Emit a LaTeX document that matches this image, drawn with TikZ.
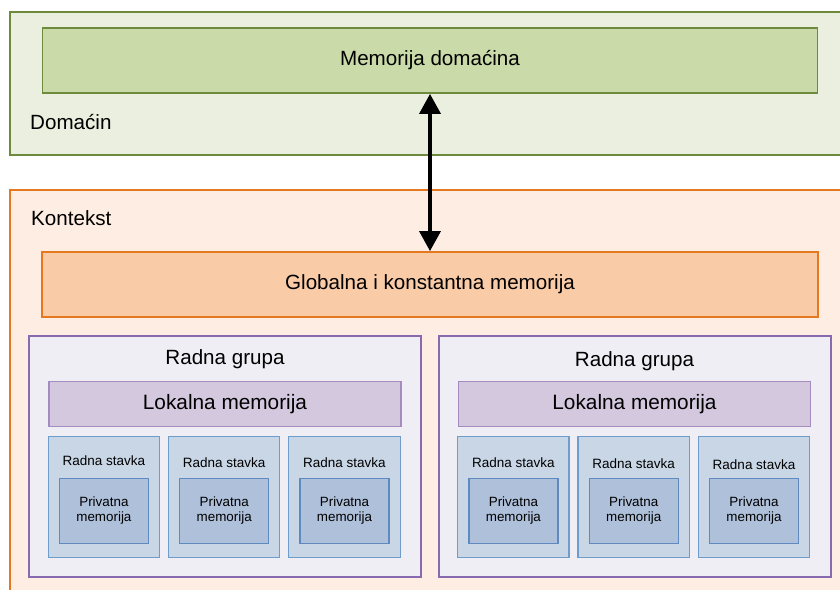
\documentclass[tikz,border=0pt]{standalone}
\usepackage{fontspec}
\setmainfont{Liberation Sans}
\usetikzlibrary{arrows.meta, positioning}
\definecolor{colHostFill}{RGB}{235,239,223}
\definecolor{colHostLine}{RGB}{110,138,60}
\definecolor{colHostMem}{RGB}{202,218,169}
\definecolor{colCtxFill}{RGB}{253,237,226}
\definecolor{colCtxLine}{RGB}{229,121,31}
\definecolor{colGlobMem}{RGB}{249,203,167}
\definecolor{colGrpFill}{RGB}{239,238,244}
\definecolor{colGrpLine}{RGB}{138,106,174}
\definecolor{colLocMem}{RGB}{211,200,222}
\definecolor{colLocLine}{RGB}{164,139,192}
\definecolor{colItemFill}{RGB}{200,214,230}
\definecolor{colItemLine}{RGB}{111,157,203}
\definecolor{colPrivFill}{RGB}{174,192,218}
\definecolor{colPrivLine}{RGB}{94,138,192}
\tikzset{
    outerbox/.style={rectangle, line width=2pt, inner sep=0pt},
    membox/.style={rectangle, line width=1.8pt, inner sep=0pt, font=\fontsize{20.6}{24}\selectfont},
    grpbox/.style={rectangle, draw=colGrpLine, fill=colGrpFill, line width=2pt,
        minimum width=392pt, minimum height=241pt, inner sep=0pt},
    locbox/.style={rectangle, draw=colLocLine, fill=colLocMem, line width=1.5pt,
        minimum width=352pt, minimum height=45pt, inner sep=0pt, font=\fontsize{20.8}{24}\selectfont},
    itembox/.style={rectangle, draw=colItemLine, fill=colItemFill, line width=1.2pt,
        minimum width=111.3pt, minimum height=121pt, inner sep=0pt, outer sep=0pt},
    privbox/.style={rectangle, draw=colPrivLine, fill=colPrivFill, line width=1.2pt,
        minimum width=89pt, minimum height=65pt, inner sep=0pt, align=center,
        font=\fontsize{13.4}{15}\selectfont},
    biglabel/.style={inner sep=0pt, font=\fontsize{20.6}{24}\selectfont},
    smalllabel/.style={inner sep=0pt, font=\fontsize{13.5}{16}\selectfont},
    dblarrow/.style={{Triangle[width=21pt,length=20pt]}-{Triangle[width=21pt,length=20pt]}, line width=3.5pt}
}
\begin{document}
\begin{tikzpicture}[x=1pt, y=1pt]
    \useasboundingbox (0,0) rectangle (840,589);

    % host
    \node[outerbox, draw=colHostLine, fill=colHostFill, minimum width=835pt, minimum height=143pt] (host) at (427.5,505.5) {};
    \node[membox, draw=colHostLine, fill=colHostMem, minimum width=775pt, minimum height=65pt] (hostmem) at (430,528.5) {Memorija domaćina};
    \node[biglabel, anchor=west] (hostlbl) at (30,467) {Domaćin};

    % context
    \node[outerbox, draw=colCtxLine, fill=colCtxFill, minimum width=835pt, minimum height=405pt] (ctx) at (427.5,196.5) {};
    \node[biglabel, anchor=west] (ctxlbl) at (31,371) {Kontekst};
    \node[membox, draw=colCtxLine, fill=colGlobMem, minimum width=776pt, minimum height=65pt] (globmem) at (430,304.5) {Globalna i konstantna memorija};

    \draw[dblarrow] (hostmem.south) -- (globmem.north);

    % work group 1
    \node[grpbox] (grp1) at (225,132.5) {};
    \node[biglabel] (grp1lbl) at ([yshift=-24pt]grp1.north) {Radna grupa};
    \node[locbox, below=46pt of grp1.north] (loc1) {Lokalna memorija};
    \node[itembox, below right=9pt and 0pt of loc1.south west] (it11) {};
    \node[itembox, right=9pt of it11] (it12) {};
    \node[itembox, right=9pt of it12] (it13) {};
    \node[smalllabel] (it11lbl) at ([yshift=-24pt]it11.north) {Radna stavka};
    \node[smalllabel] (it12lbl) at ([yshift=-26pt]it12.north) {Radna stavka};
    \node[smalllabel] (it13lbl) at ([yshift=-26pt]it13.north) {Radna stavka};
    \node[privbox] (pr11) at ([yshift=-14pt]it11.center) {Privatna\\memorija};
    \node[privbox] (pr12) at ([yshift=-14pt]it12.center) {Privatna\\memorija};
    \node[privbox] (pr13) at ([yshift=-14pt]it13.center) {Privatna\\memorija};

    % work group 2
    \node[grpbox] (grp2) at (634.5,132.5) {};
    \node[biglabel] (grp2lbl) at ([yshift=-26pt]grp2.north) {Radna grupa};
    \node[locbox, below=46pt of grp2.north] (loc2) {Lokalna memorija};
    \node[itembox, below right=9pt and 0pt of loc2.south west] (it21) {};
    \node[itembox, right=9pt of it21] (it22) {};
    \node[itembox, right=9pt of it22] (it23) {};
    \node[smalllabel] (it21lbl) at ([yshift=-26pt]it21.north) {Radna stavka};
    \node[smalllabel] (it22lbl) at ([yshift=-27pt]it22.north) {Radna stavka};
    \node[smalllabel] (it23lbl) at ([yshift=-28pt]it23.north) {Radna stavka};
    \node[privbox] (pr21) at ([yshift=-14pt]it21.center) {Privatna\\memorija};
    \node[privbox] (pr22) at ([yshift=-14pt]it22.center) {Privatna\\memorija};
    \node[privbox] (pr23) at ([yshift=-14pt]it23.center) {Privatna\\memorija};

\end{tikzpicture}
\end{document}
